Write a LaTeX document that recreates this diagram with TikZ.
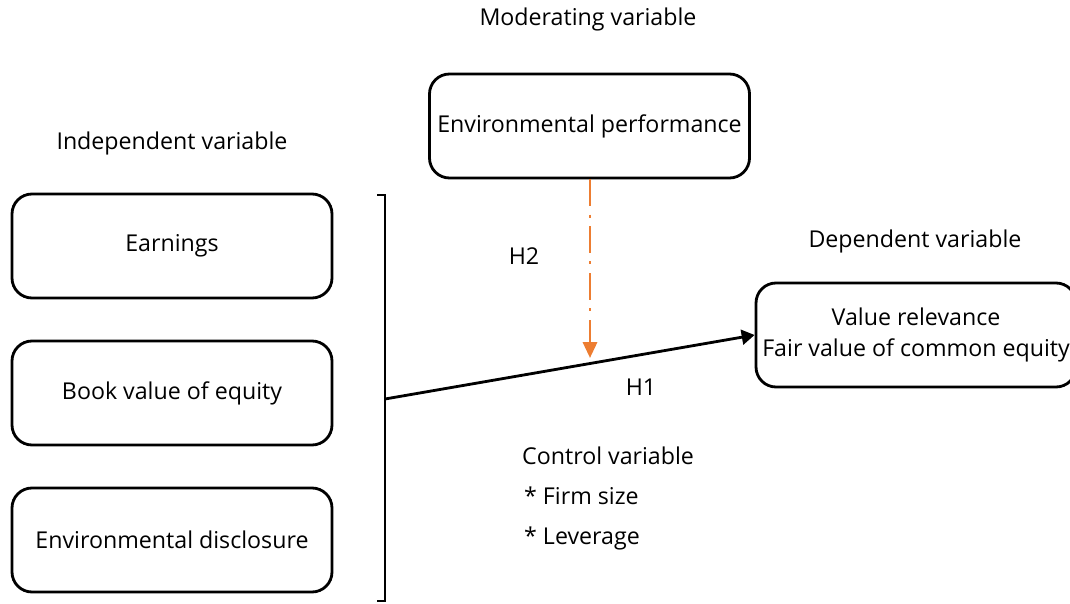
\documentclass[tikz,border=0pt]{standalone}
\usepackage{fontspec}
\setmainfont{Open Sans}
\usetikzlibrary{
    arrows.meta,
    calc,
    positioning
}
\definecolor{hyporange}{RGB}{237,125,49}
\tikzset{
    every picture/.style = {
        > = Triangle,
        line width = 1.6pt
    },
    varbox/.style = {
        draw,
        rounded corners = 0.4cm,
        minimum width = 6.4cm,
        minimum height = 2.08cm,
        align = center,
        font = \fontsize{13.2}{18}\selectfont
    },
    caption/.style = {
        inner sep = 1pt,
        font = \fontsize{13.2}{16}\selectfont
    },
    dashdot/.style = {
        hyporange,
        line width = 1.6pt,
        dash pattern = on 15pt off 5pt on 1.7pt off 5pt
    }
}

\begin{document}
\begin{tikzpicture}
    \useasboundingbox (0, 0) rectangle (21.4, 12.06);

    % variable boxes
    \node[varbox] (earn) at (3.44, 7.14) {Earnings};
    \node[varbox] (book) at (3.44, 4.2) {Book value of equity};
    \node[varbox] (disc) at (3.44, 1.26) {Environmental disclosure};
    \node[varbox] (perf) at (11.79, 9.54) {Environmental performance};
    \node[varbox] (vrel) at (18.32, 5.36) {Value relevance\\Fair value of common equity};

    % headings
    \node[caption] (modh) at (11.76, 11.68) {Moderating variable};
    \node[caption] (indh) at (3.44, 9.2) {Independent variable};
    \node[caption] (deph) at (18.3, 7.24) {Dependent variable};

    % bracket round the independent variables
    \coordinate (btop) at (7.7, 8.16);
    \coordinate (bbot) at (7.7, 0.04);
    \coordinate (bmid) at (7.7, 4.08);
    \draw (7.54, 8.16) -- (btop) -- (bbot) -- (7.54, 0.04);

    % hypotheses
    \coordinate (mtip) at (11.8, 4.9);
    \draw[->] (bmid) -- (vrel.west);
    \draw[dashdot, -{Triangle[length=9pt, width=8pt]}] (perf.south -| mtip) -- (mtip);
    \node[caption] (htwo) at (10.48, 6.94) {H2};
    \node[caption] (hone) at (12.82, 4.32) {H1};

    % control variables
    \node[caption, anchor = west] (ctrl) at (10.38, 2.94) {Control variable};
    \node[caption, anchor = west] (size) at (10.42, 2.14) {* Firm size};
    \node[caption, anchor = west] (lev) at (10.42, 1.3) {* Leverage};
\end{tikzpicture}
\end{document}
